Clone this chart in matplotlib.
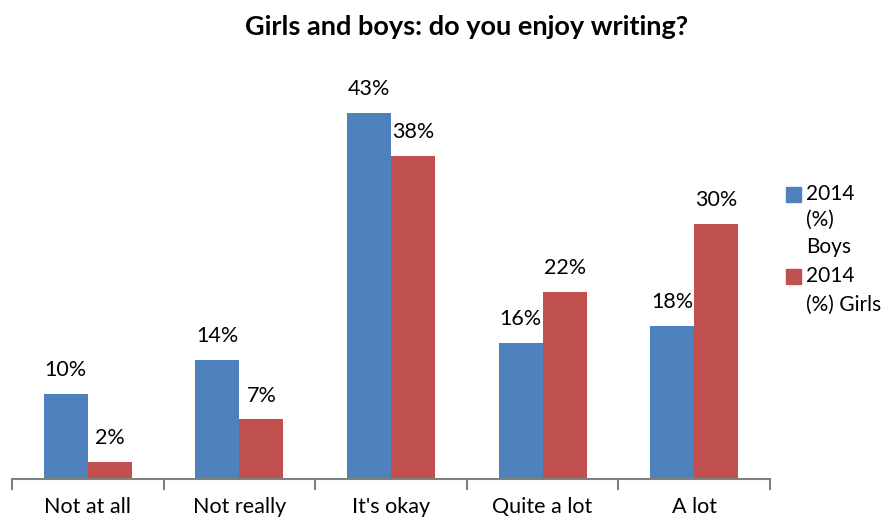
import matplotlib
matplotlib.use("Agg")
import matplotlib.pyplot as plt
import numpy as np
from matplotlib.patches import Rectangle

categories = ["Not at all", "Not really", "It's okay", "Quite a lot", "A lot"]
boys = [10, 14, 43, 16, 18]
girls = [2, 7, 38, 22, 30]
series_lines = [["2014", "(%)", "Boys"], ["2014", "(%) Girls"]]
blue = "#4F81BD"
red = "#C0504D"

plt.rcParams['font.family'] = ['Lato', 'DejaVu Sans']

W, H = 890, 521
fig = plt.figure(figsize=(W / 100, H / 100), dpi=100)
ax = fig.add_axes([12 / W, 1 - 479 / H, 758 / W, (479 - 96) / H])
x = np.arange(len(categories))
w = 0.29
b1 = ax.bar(x - w/2, boys, w, color=blue)
b2 = ax.bar(x + w/2, girls, w, color=red)
for rects, vals in ((b1, boys), (b2, girls)):
    for r, v in zip(rects, vals):
        ax.text(r.get_x() + r.get_width()/2, v + 1.6, f"{v}%", ha='center', va='bottom', fontsize=15.5)

ax.set_xlim(-0.5, len(categories) - 0.5)
ax.set_ylim(0, 45)
ax.set_yticks([])
for s in ['top', 'right', 'left']:
    ax.spines[s].set_visible(False)
ax.spines['bottom'].set_color('#808080')
ax.spines['bottom'].set_linewidth(1.5)
ax.set_xticks(np.arange(-0.5, len(categories)))
ax.set_xticklabels([])
ax.tick_params(axis='x', which='major', length=8, color='#808080', width=1.5)
ax.set_xticks(x, minor=True)
ax.set_xticklabels(categories, minor=True, fontsize=15.5)
ax.tick_params(axis='x', which='minor', length=0, pad=13)

fig.text(467 / W, 1 - 27 / H, "Girls and boys: do you enjoy writing?", ha='center', va='center',
         fontsize=19.5, fontweight='bold')

# legend drawn manually to mimic wrapped entries
colors = [blue, red]
line_y = [[194, 220, 247], [276, 305]]
for col, lines, ys in zip(colors, series_lines, line_y):
    fig.patches.append(Rectangle((786 / W, 1 - (ys[0] + 8) / H), 15 / W, 15 / H,
                                 transform=fig.transFigure, color=col))
    for t, yy in zip(lines, ys):
        fig.text(806 / W, 1 - yy / H, t, ha='left', va='center', fontsize=15)

fig.savefig("out.png", dpi=100)
